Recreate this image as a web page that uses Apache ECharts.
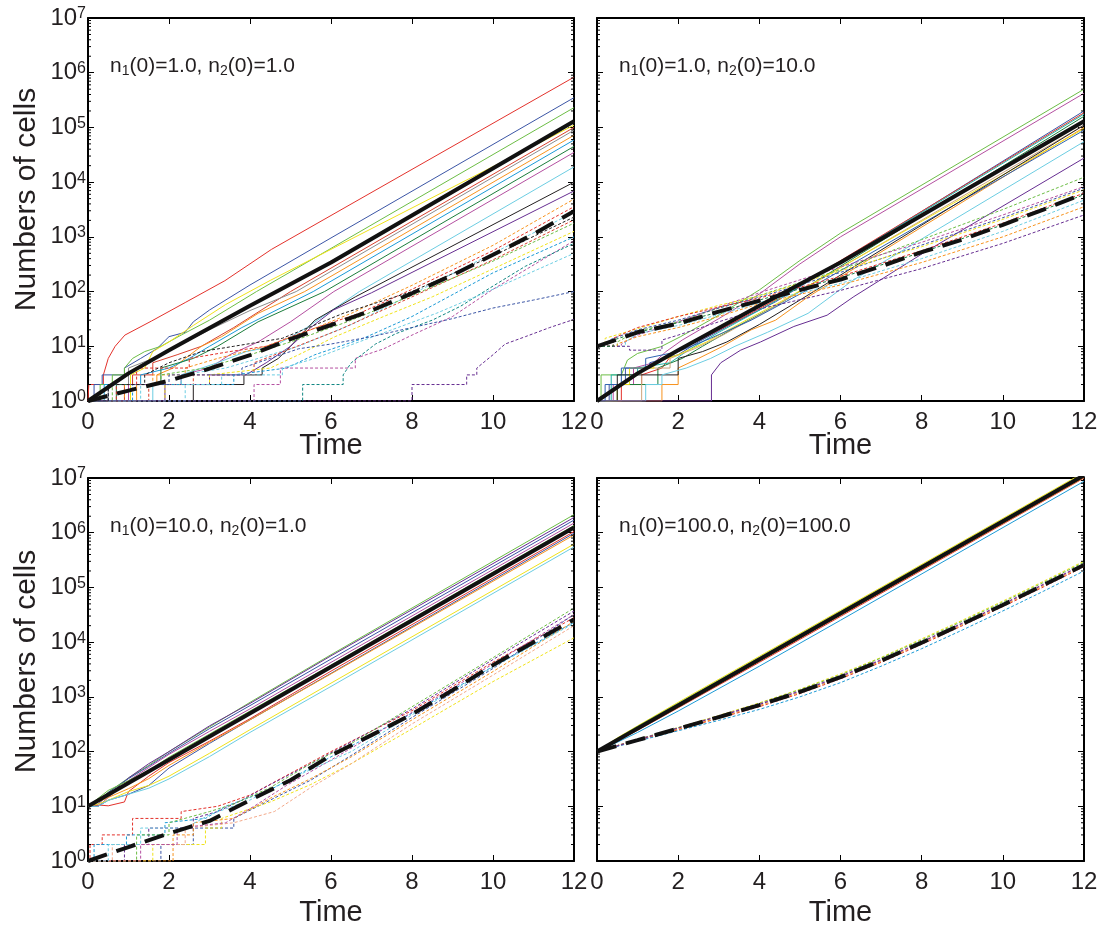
<!DOCTYPE html>
<html><head><meta charset="utf-8">
<script src="https://cdn.jsdelivr.net/npm/echarts@6/dist/echarts.min.js"></script>
<style>html,body{margin:0;padding:0;background:#fff}#c{width:1102px;height:926px}</style>
</head><body><div id="c"></div><script>
// ---------- axis ticks / labels ----------
const TIME_MIN = 0, TIME_MAX = 12, TIME_STEP = 2;
const Y_MIN = 1, Y_MAX = 1e7;
const PANEL_LABELS = [
  ['1.0', '1.0'], ['1.0', '10.0'], ['10.0', '1.0'], ['100.0', '100.0']
];
const X_TITLE = 'Time';
const Y_TITLE = 'Numbers of cells';

// ---------- panel 1 : n1(0)=1, n2(0)=1 ----------
const TL_N1 = [
  [[0,1],[0.02,1],[0.02,2],[0.38,2],[0.38,3],[0.5,6],[0.67,10],[0.91,16],[1.57,29],[2.4,63],[3.38,158],[4.53,590],[12,8.3e5]],
  [[0,1],[0.15,1],[0.15,2],[0.35,2],[0.35,3],[0.9,3],[0.9,4],[1.3,6],[1.7,9],[2.0,15],[2.4,18],[2.6,28],[3,46],[4,132],[6,955],[12,3.5e5]],
  [[0,1],[0.3,1],[0.3,2],[0.6,2],[0.6,3],[0.9,3],[0.9,4],[1.1,6],[1.4,8],[1.8,10],[2.3,16],[3.0,30],[4.16,100],[12,2.3e5]],
  [[0,1],[0.9,1],[0.9,2],[1.1,2],[1.1,3],[1.6,3],[1.6,5],[2.2,7],[2.8,10],[3.6,22],[5.0,100],[12,1.0e5]],
  [[0,1],[0.5,1],[0.5,2],[1.0,2],[1.0,4],[1.6,6],[2.2,10],[3.0,20],[4,45],[5.14,100],[12,8.9e4]],
  [[0,1],[1.05,1],[1.05,3],[1.4,4],[1.6,8],[2.0,12],[2.6,24],[3.4,58],[4.5,160],[12,1.1e5]],
  [[0,1],[1.2,1],[1.2,2],[1.7,2],[1.7,3],[2.1,4],[2.4,6],[2.8,10],[3.3,15],[4.2,40],[5.35,100],[12,7.2e4]],
  [[0,1],[0.4,1],[0.4,2],[1.3,2],[1.3,3],[2.0,4],[2.5,6],[3.0,10],[3.8,22],[5.56,100],[12,5.9e4]],
  [[0,1],[0.7,1],[0.7,2],[1.8,2],[1.8,4],[2.6,6],[3.2,10],[4.2,28],[5.84,100],[12,4.5e4]],
  [[0,1],[1.0,1],[1.0,2],[2.3,2],[2.3,3],[3.0,4],[3.5,7],[4.2,12],[5,28],[6.07,100],[12,3.5e4]],
  [[0,1],[1.6,1],[1.6,2],[2.3,2],[2.3,3],[3.2,5],[3.9,8],[4.6,10],[5.4,22],[6.7,100],[12,1.9e4]],
  [[0,1],[2.6,1],[2.6,2],[3.85,2],[3.85,3],[4.3,3],[4.3,4],[4.7,6],[5.0,10],[5.6,30],[6.6,80],[12,1.0e4]],
  [[0,1],[1.9,1],[1.9,2],[3.0,2],[3.0,3],[3.9,3],[4.4,5],[5.0,10],[5.5,22],[6.06,46],[7,95],[12,6.9e3]]
];
const TL_N1_COLORS = ['red','blue','green','red2','gray','yellow','orange','sky','dgreen','magenta','cyan','black','purple'];
const TL_N2 = [
  [[0,1],[0.9,1],[0.9,2],[1.6,2],[1.6,3],[2.4,3],[2.4,4],[3.2,6],[4.4,10],[5.5,20],[6.5,40],[8,130],[10,700],[12,4900]],
  [[0,1],[0.7,1],[0.7,2],[1.2,2],[1.2,4],[2.5,4],[2.5,6],[3.5,8],[4.4,10],[5.3,18],[6.7,40],[8,110],[10,560],[12,3550]],
  [[0,1],[1.3,1],[1.3,2],[2.3,2],[2.3,3],[3.4,4],[4.2,6],[5.2,10],[6.5,25],[8,90],[10,500],[12,2800]],
  [[0,1],[1.5,1],[1.5,2],[2.6,2],[2.6,3],[4.1,3],[4.1,5],[5,9],[6.2,20],[8,80],[10,380],[12,2050]],
  [[0,1],[0.6,1],[0.6,2],[1.8,2],[1.8,3],[2.9,4],[4,7],[5,12],[6.4,28],[8,85],[10,360],[12,1780]],
  [[0,1],[1.9,1],[1.9,2],[3.0,2],[3.0,3],[4.5,4],[5.2,7],[6.1,15],[7.3,35],[8.5,80],[10,260],[12,1260]],
  [[0,1],[1.1,1],[1.1,2],[3.6,2],[3.6,3],[4.9,4],[5.6,7],[6.8,14],[8,35],[10,220],[12,1000]],
  [[0,1],[4.1,1],[4.1,2],[4.75,2],[4.75,4],[6.6,4],[6.6,6],[7.3,9],[8.0,16],[9,35],[10,110],[12,850]],
  [[0,1],[5.3,1],[5.3,2],[6.3,2],[6.3,3],[6.5,5],[7.1,11],[7.6,17],[8.5,30],[9.2,54],[10,126],[10.8,290],[12,760]],
  [[0,1],[2.4,1],[2.4,2],[3.3,2],[3.3,3],[4.8,3],[4.8,4],[5.6,6],[6.4,10],[7.5,20],[8.6,40],[10,110],[12,500]],
  [[0,1],[0.5,1],[0.5,2],[2.0,2],[2.0,3],[3.8,3],[3.8,4],[4.5,6],[5.2,9],[6.0,11],[7.0,15],[8.0,22],[9.0,32],[10,50],[11,70],[12,100]],
  [[0,1],[8.0,1],[8.0,2],[9.35,2],[9.35,3],[9.6,3],[9.6,4],[10.0,7],[10.3,11],[10.8,15],[11.4,22],[12,31]],
  [[0,1],[0.5,1],[0.5,2],[1.4,2],[1.4,3],[2,5],[2.8,8],[3.6,10],[4.8,14],[6.3,40],[8,100],[10,450],[12,2300]]
];
const TL_N2_COLORS = ['orange','red','cyan','red2','green','yellow','sky','magenta','teal','cyan','blue','purple','black'];
const TL_N1_MEAN = [[0,1],[1,3.2],[2,8.5],[4,55],[6,340],[12,1.3e5]];
const TL_N2_MEAN = [[0,1],[1,1.55],[2,2.35],[3,3.9],[4,6.9],[5,13.5],[6,24.5],[7,45],[8,93],[9,200],[10,470],[11,1120],[12,2950]];

// ---------- panel 2 : n1(0)=1, n2(0)=10 ----------
const TR_N1 = [
  [[0,1],[0.1,1],[0.1,3],[0.6,3],[0.75,5.6],[1.0,7.4],[1.57,9.8],[2.06,15],[3,37],[4,107],[5,370],[6,1170],[12,5e5]],
  [[0,1],[0.4,1],[0.4,2],[0.9,2],[0.9,4],[1.4,5],[1.7,8],[2.1,13],[3,32],[4,90],[5,320],[6,1000],[12,4.2e5]],
  [[0,1],[0.3,1],[0.3,2],[0.7,2],[0.7,4],[1.3,4],[1.3,5],[2.0,7],[2.5,12],[3.3,25],[4.4,65],[12,2.0e5]],
  [[0,1],[0.6,1],[0.6,2],[1.1,2],[1.1,3],[1.6,4],[1.9,8],[2.6,14],[3.4,28],[4.4,70],[12,1.85e5]],
  [[0,1],[0.35,1],[0.35,3],[1.0,3],[1.0,4],[1.8,5],[2.3,9],[3,18],[4.2,55],[12,1.75e5]],
  [[0,1],[0.5,1],[0.5,2],[1.5,2],[1.5,4],[2.1,6],[2.6,10],[3.4,22],[4.5,60],[12,1.6e5]],
  [[0,1],[1.1,1],[1.1,4],[1.8,4],[1.8,6],[2.4,9],[3.1,16],[4.2,45],[12,1.1e5]],
  [[0,1],[1.6,1],[1.6,2],[2.0,2],[2.0,4],[2.5,6],[3.1,10],[3.8,20],[4.4,30],[5.2,80],[12,1.0e5]],
  [[0,1],[0.5,1],[0.5,2],[0.8,2],[0.8,4],[1.4,4],[1.4,5],[2,7],[2.7,12],[3.6,28],[4.6,70],[12,9.5e4]],
  [[0,1],[0.2,1],[0.2,2],[0.6,2],[0.6,4],[1.2,4],[1.2,6],[2.0,8],[2.8,14],[3.8,30],[5,90],[12,8.9e4]],
  [[0,1],[0.5,1],[0.5,3],[2.0,3],[2.0,6],[2.6,8],[3.2,12],[4.0,25],[5.0,70],[12,1.1e5]],
  [[0,1],[1.2,1],[1.2,2],[1.6,2],[1.6,3],[2.2,4],[2.8,6],[3.4,10],[4.2,18],[5.2,40],[6.3,160],[12,5.5e4]],
  [[0,1],[2.82,1],[2.82,3],[3.05,5],[3.54,8.5],[4.03,12],[4.85,23],[5.67,37],[6.33,81],[8.03,500],[12,2.75e4]]
];
const TR_N1_COLORS = ['green','magenta','blue','red','teal2','dgreen','tan','orange','yellow','blue2','black','cyan','purple'];
const TR_N2 = [
  [[0,10],[0.5,10],[0.5,12],[1,19],[2,28],[3,50],[4,85],[6,251],[8,891],[10,3160],[12,12300]],
  [[0,10],[0.6,10],[0.6,11],[1,16],[2,28],[3,52],[4,95],[6,282],[8,794],[10,2510],[12,8300]],
  [[0,10],[0.3,10],[0.3,13],[1,20],[2,30],[3,50],[4,79],[6,224],[8,708],[10,2240],[12,7760]],
  [[0,10],[0.2,10],[0.2,14],[1,21],[2,35],[3,56],[4,83],[6,240],[8,660],[10,2090],[12,7240]],
  [[0,10],[0.4,10],[0.4,14],[1,22],[2,35],[3,52],[4,76],[6,190],[8,560],[10,1780],[12,6300]],
  [[0,10],[0.7,10],[0.7,12],[1,17],[2,24],[3,38],[4,63],[6,141],[8,400],[10,1260],[12,4680]],
  [[0,10],[0.5,10],[0.5,11],[1,15],[2,22],[3,35],[4,60],[6,132],[8,340],[10,1000],[12,3550]],
  [[0,10],[0.8,10],[0.8,8.5],[1.6,8.5],[1.6,13],[2,16],[3,28],[4,48],[6,105],[8,263],[10,760],[12,2510]],
  [[0,10],[0.4,10],[0.4,13],[1,18],[2,27],[3,42],[4,70],[6,180],[8,520],[10,1660],[12,5900]]
];
const TR_N2_COLORS = ['green','magenta','blue','yellow','red','cyan','orange','purple','dgreen'];
const TR_N1_MEAN = [[0,1],[1,3.2],[2,8.5],[4,55],[6,340],[12,1.3e5]];
const TR_N2_MEAN = [[0,10],[1,18],[2,26],[3,43],[4,68],[5,107],[6,166],[7,290],[8,525],[9,890],[10,1660],[11,3160],[12,6170]];

// ---------- panel 3 : n1(0)=10, n2(0)=1 ----------
const BL_N1 = [
  [[0,10],[0.25,13],[0.5,18],[1,33],[1.5,56],[2,100],[3,282],[4,794],[6,5890],[12,2.14e6]],
  [[0,10],[0.25,11],[0.5,16],[1,33],[1.5,60],[2,100],[3,295],[4,759],[6,5620],[12,1.9e6]],
  [[0,10],[0.25,12],[0.5,18],[1,32],[1.5,54],[2,93],[3,263],[4,692],[6,4900],[12,1.7e6]],
  [[0,10],[0.25,10],[0.5,14.5],[1,29.5],[1.5,51],[2,89],[3,234],[4,603],[6,4270],[12,1.5e6]],
  [[0,10],[0.25,14],[0.5,19.5],[1,29.5],[1.5,45],[2,79],[3,209],[4,550],[6,3800],[12,1.35e6]],
  [[0,10],[0.3,10.5],[0.5,10.2],[0.9,12],[1,18.6],[1.5,35.5],[2,63],[3,155],[4,398],[6,2950],[12,1.05e6]],
  [[0,10],[0.25,10],[0.5,12.9],[1,16.6],[1.5,24],[2,50],[3,141],[4,380],[6,2690],[12,9.8e5]],
  [[0,10],[0.25,12],[0.5,14.5],[1,21],[1.5,32],[2,56],[3,148],[4,380],[6,2630],[12,9.1e5]],
  [[0,10],[0.25,11],[0.5,12.9],[1,18.6],[1.5,24],[2,35.5],[3,93],[4,251],[6,1780],[12,6.2e5]],
  [[0,10],[0.25,10],[0.5,12.9],[1,16.6],[1.5,21.4],[2,31.6],[3,81],[4,224],[6,1550],[12,5.5e5]]
];
const BL_N1_COLORS = ['green','purple','blue','magenta','green','red','blue','orange','yellow','cyan'];
const BL_N2 = [
  [[0,1],[0.05,1],[0.05,2],[0.35,2],[0.35,3],[1.1,3],[1.1,6],[2.3,6],[2.3,8],[3.2,10],[4,16],[5,40],[6,100],[8,560],[10,4300],[12,2.8e4]],
  [[0,1],[0.15,1],[0.15,2],[0.95,2],[0.95,3],[1.9,3],[1.9,5],[2.9,6],[3.4,10],[4.5,20],[6,80],[8,500],[10,3600],[12,2.3e4]],
  [[0,1],[0.9,1],[0.9,2],[1.5,2],[1.5,4],[2.6,4],[2.6,6],[3.2,8],[3.8,13],[4.5,25],[5.5,60],[6.5,150],[8,600],[10,4800],[12,3.7e4]],
  [[0,1],[1.2,1],[1.2,3],[2.0,3],[2.0,5],[3.0,8],[3.6,11],[4.5,22],[5.5,60],[6.5,140],[8,660],[10,5200],[12,4.2e4]],
  [[0,1],[1.8,1],[1.8,2],[2.6,2],[2.6,4],[3.6,4],[3.6,6],[4.5,13],[5.5,30],[6.5,85],[8,420],[10,3300],[12,3.2e4]],
  [[0,1],[1.6,1],[1.6,2],[2.9,2],[2.9,4],[3.3,4],[3.3,6],[4.5,12],[5.5,25],[6.5,60],[8,260],[10,1900],[12,1.2e4]],
  [[0,1],[2.1,1],[2.1,3],[2.6,3],[2.6,5],[3.6,6],[4.5,14],[5.5,32],[6.5,80],[8,380],[10,2900],[12,2.4e4]],
  [[0,1],[0.6,1],[0.6,2],[2.4,2],[2.4,4],[3.6,5],[4.6,8],[5.5,22],[6.5,60],[8,320],[10,2500],[12,2e4]],
  [[0,1],[1.3,1],[1.3,2],[2.2,2],[2.2,4],[3.4,5],[4.1,10],[4.9,24],[6,70],[8,520],[10,4000],[12,3.2e4]],
  [[0,1],[0.5,1],[0.5,2],[1.3,2],[1.3,4],[2.4,4],[3,7],[4,13],[5,32],[6.5,100],[8,470],[10,3500],[12,2.2e4]]
];
const BL_N2_COLORS = ['red','sky','purple','green','blue','yellow','orange','peach','magenta','cyan'];
const BL_N1_MEAN = [[0,10],[12,1.25e6]];
const BL_N2_MEAN = [[0,1],[1,1.8],[2,3.2],[3,5.4],[4,13],[5,30],[6,85],[7,200],[8,480],[9,1320],[10,3800],[11,1e4],[12,2.6e4]];

// ---------- panel 4 : n1(0)=100, n2(0)=100 ----------
const BR_N1 = [
  [[0,100],[0.5,178],[1,295],[2,794],[4,5500],[6,38000],[12,1.26e7]],
  [[0,100],[0.5,174],[1,288],[2,760],[4,5250],[6,36300],[12,1.2e7]],
  [[0,100],[0.5,166],[1,269],[2,708],[4,4900],[6,33900],[12,1.15e7]],
  [[0,100],[0.5,155],[1,245],[2,631],[4,4270],[6,29500],[12,1.0e7]],
  [[0,100],[0.5,158],[1,251],[2,646],[4,4470],[6,30900],[12,1.02e7]],
  [[0,100],[0.5,148],[1,224],[2,550],[4,3630],[6,25100],[12,8.7e6]],
  [[0,100],[0.5,158],[1,257],[2,661],[4,4570],[6,31600],[12,1.05e7]]
];
const BR_N1_COLORS = ['yellow','green','magenta','red','orange','sky','blue'];
const BR_N2 = [
  [[0,100],[1,166],[2,275],[3,457],[4,776],[5,1380],[6,2630],[7,5250],[8,11480],[9,25120],[10,56230],[11,1.29e5],[12,3.02e5]],
  [[0,100],[1,166],[2,275],[3,447],[4,759],[5,1349],[6,2512],[7,5129],[8,10960],[9,23990],[10,53700],[11,1.23e5],[12,2.88e5]],
  [[0,100],[1,166],[2,269],[3,447],[4,741],[5,1288],[6,2399],[7,4786],[8,10230],[9,22390],[10,50120],[11,1.15e5],[12,2.69e5]],
  [[0,100],[1,158],[2,251],[3,407],[4,661],[5,1148],[6,2138],[7,4266],[8,9120],[9,19950],[10,44670],[11,1.02e5],[12,2.4e5]],
  [[0,100],[1,162],[2,257],[3,417],[4,692],[5,1202],[6,2239],[7,4467],[8,9550],[9,20890],[10,46770],[11,1.07e5],[12,2.51e5]],
  [[0,100],[1,155],[2,240],[3,372],[4,589],[5,1000],[6,1820],[7,3630],[8,7590],[9,16600],[10,37150],[11,85110],[12,2.0e5]],
  [[0,100],[1,162],[2,269],[3,437],[4,724],[5,1259],[6,2344],[7,4677],[8,10000],[9,21880],[10,48980],[11,1.12e5],[12,2.63e5]]
];
const BR_N2_COLORS = ['yellow','green','magenta','red','orange','sky','purple'];
const BR_N1_MEAN = [[0,100],[12,1.12e7]];
const BR_N2_MEAN = [[0,100],[1,162],[2,263],[3,427],[4,708],[5,1230],[6,2290],[7,4570],[8,9770],[9,21380],[10,47860],[11,1.1e5],[12,2.57e5]];

// ---------- styles ----------
const PALETTE = {
  red:'#e3312b', red2:'#d8412f', blue:'#3b55a5', blue2:'#2f62b0', green:'#6cbd45', gray:'#8c8c8c',
  yellow:'#f0e21a', orange:'#f7931e', sky:'#1b9ad6', dgreen:'#1b7d3b', magenta:'#b44fa0',
  cyan:'#6ccde2', black:'#231f20', purple:'#662d91', teal:'#0f8682', teal2:'#21b2a6',
  tan:'#cda57c', peach:'#f3a98a'
};
const FONT = 'Liberation Sans, Arial, Helvetica, sans-serif';
const INK = '#231f20';
const GRIDS = [
  {left:88, top:18, width:486, height:383},
  {left:597, top:18, width:487, height:383},
  {left:88, top:478, width:486, height:383},
  {left:597, top:478, width:487, height:383}
];
// offsets of the "Time" titles below each panel, and of the y titles
const X_TITLE_DY = [45, 45, 52, 52];
const Y_TITLE_X = 27;
const Y_TITLE_DY = [-10, -10, -8, -8];
const PANELS = [
  {n1:TL_N1, n1c:TL_N1_COLORS, n2:TL_N2, n2c:TL_N2_COLORS, m1:TL_N1_MEAN, m2:TL_N2_MEAN},
  {n1:TR_N1, n1c:TR_N1_COLORS, n2:TR_N2, n2c:TR_N2_COLORS, m1:TR_N1_MEAN, m2:TR_N2_MEAN},
  {n1:BL_N1, n1c:BL_N1_COLORS, n2:BL_N2, n2c:BL_N2_COLORS, m1:BL_N1_MEAN, m2:BL_N2_MEAN},
  {n1:BR_N1, n1c:BR_N1_COLORS, n2:BR_N2, n2c:BR_N2_COLORS, m1:BR_N1_MEAN, m2:BR_N2_MEAN}
];

// minor tick positions of the log axis (2..9 x 10^k)
const MINOR_TICKS = [];
for (let k = 0; k < 7; k++) for (let m = 2; m <= 9; m++) MINOR_TICKS.push([0, m * Math.pow(10, k)]);

const axisLine = {show:true, onZero:false, lineStyle:{color:'#000', width:2}};
const axisTick = {show:true, inside:true, length:6, lineStyle:{color:'#000', width:1}};

const xAxes = [], yAxes = [], series = [], graphics = [];
GRIDS.forEach((g, p) => {
  const isLeft = (p % 2 === 0);
  xAxes.push({
    gridIndex:p, type:'value', min:TIME_MIN, max:TIME_MAX, interval:TIME_STEP, position:'bottom',
    axisLine, axisTick, splitLine:{show:false},
    axisLabel:{fontSize:24, color:INK, fontFamily:FONT, margin:9}
  });
  xAxes.push({
    gridIndex:p, type:'value', min:TIME_MIN, max:TIME_MAX, interval:TIME_STEP, position:'top',
    axisLine, axisTick, splitLine:{show:false}, axisLabel:{show:false}
  });
  yAxes.push({
    gridIndex:p, type:'log', logBase:10, min:Y_MIN, max:Y_MAX, splitNumber:7, position:'left',
    axisLine, axisTick, splitLine:{show:false},
    axisLabel:{
      show:isLeft, margin:2, color:INK, fontFamily:FONT,
      formatter: v => '{b|10}{s|' + Math.round(Math.log10(v)) + '}',
      rich:{
        b:{fontSize:24, color:INK, fontFamily:FONT},
        s:{fontSize:16, color:INK, fontFamily:FONT, verticalAlign:'top'}
      }
    }
  });
  yAxes.push({
    gridIndex:p, type:'log', logBase:10, min:Y_MIN, max:Y_MAX, splitNumber:7, position:'right',
    axisLine, axisTick, splitLine:{show:false}, axisLabel:{show:false}
  });

  const P = PANELS[p];
  const xi = 2 * p, yi = 2 * p;
  P.n1.forEach((d, j) => series.push({
    type:'line', xAxisIndex:xi, yAxisIndex:yi, data:d, symbol:'none', silent:true,
    lineStyle:{width:1, color:PALETTE[P.n1c[j]], type:'solid'}, z:2
  }));
  P.n2.forEach((d, j) => series.push({
    type:'line', xAxisIndex:xi, yAxisIndex:yi, data:d, symbol:'none', silent:true,
    lineStyle:{width:1, color:PALETTE[P.n2c[j]], type:[3,2]}, z:2
  }));
  series.push({
    type:'line', xAxisIndex:xi, yAxisIndex:yi, data:P.m1, symbol:'none', silent:true,
    lineStyle:{width:4, color:'#111', type:'solid'}, z:4
  });
  series.push({
    type:'line', xAxisIndex:xi, yAxisIndex:yi, data:P.m2, symbol:'none', silent:true,
    lineStyle:{width:4, color:'#111', type:[20,10]}, z:4
  });
  series.push({
    type:'custom', xAxisIndex:xi, yAxisIndex:yi, data:MINOR_TICKS, silent:true, z:5, clip:false,
    renderItem:(params, api) => {
      const v = api.value(1);
      const a = api.coord([TIME_MIN, v]);
      const b = api.coord([TIME_MAX, v]);
      return {type:'group', children:[
        {type:'line', shape:{x1:a[0], y1:a[1], x2:a[0] + 3, y2:a[1]}, style:{stroke:'#000', lineWidth:1}},
        {type:'line', shape:{x1:b[0] - 3, y1:b[1], x2:b[0], y2:b[1]}, style:{stroke:'#000', lineWidth:1}}
      ]};
    }
  });

  const lab = PANEL_LABELS[p];
  graphics.push({
    type:'text', left:g.left + 22, top:g.top + 38, z:10,
    style:{
      text:'{n|n}{s|1}{n|(0)=' + lab[0] + ', n}{s|2}{n|(0)=' + lab[1] + '}',
      rich:{
        n:{fontSize:21, fill:INK, fontFamily:FONT, lineHeight:24},
        s:{fontSize:14, fill:INK, fontFamily:FONT, verticalAlign:'bottom', lineHeight:20}
      }
    }
  });
  graphics.push({
    type:'text', x:g.left + g.width / 2, y:g.top + g.height + X_TITLE_DY[p], z:10,
    style:{text:X_TITLE, fontSize:29, fill:INK, fontFamily:FONT, align:'center', verticalAlign:'middle'}
  });
  if (isLeft) {
    graphics.push({
      type:'text', x:Y_TITLE_X, y:g.top + g.height / 2 + Y_TITLE_DY[p], rotation:Math.PI / 2, z:10,
      style:{text:Y_TITLE, fontSize:30, fill:INK, fontFamily:FONT, align:'center', verticalAlign:'middle'}
    });
  }
});

const chart = echarts.init(document.getElementById('c'), null, {renderer:'canvas'});
chart.setOption({
  animation:false,
  backgroundColor:'#fff',
  grid:GRIDS.map(g => Object.assign({containLabel:false}, g)),
  xAxis:xAxes, yAxis:yAxes, series, graphic:graphics
});
</script></body></html>
